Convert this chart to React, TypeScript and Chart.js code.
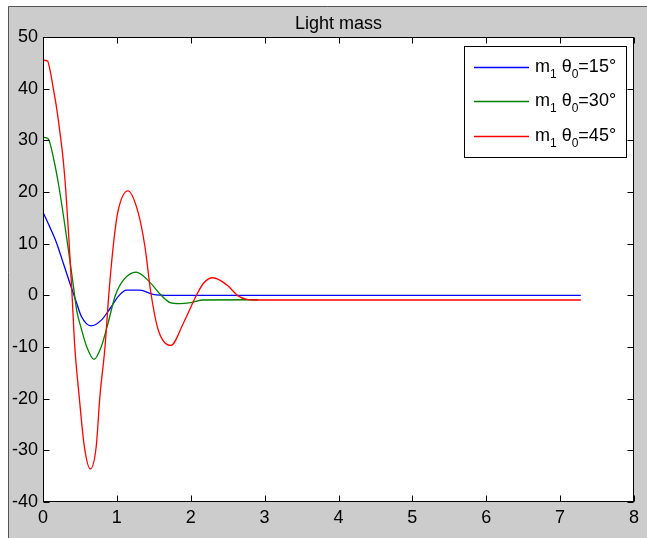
import React, { useEffect, useRef } from "react";
import { Chart, registerables } from "chart.js";

Chart.register(...registerables);

// ---- data ----
const xTicks = [0, 1, 2, 3, 4, 5, 6, 7, 8];
const yTicks = [-40, -30, -20, -10, 0, 10, 20, 30, 40, 50];
const titleText = "Light mass";
const legendAngles = ["15", "30", "45"];

const blueT = [0, 0.09, 0.185, 0.275, 0.365, 0.455, 0.52, 0.65, 0.79, 0.91, 1.02, 1.13, 1.31, 1.49, 1.72, 7.28];
const blueV = [16.1, 13.3, 10.1, 6.2, 2.3, -1.5, -4.1, -5.9, -4.8, -2.5, -0.2, 1.0, 1.0, 0.2, 0.0, 0.0];

const greenT = [0, 0.07, 0.15, 0.21, 0.275, 0.34, 0.4, 0.46, 0.51, 0.59, 0.69, 0.79, 0.88, 0.98, 1.09, 1.26, 1.43, 1.58, 1.72, 1.85, 2.0, 2.17, 2.91];
const greenV = [30.6, 30.3, 26.0, 21.5, 15.6, 9.2, 3.0, -3.2, -6.0, -9.9, -12.4, -9.9, -5.4, 0.0, 3.0, 4.5, 2.8, 0.3, -1.4, -1.6, -1.4, -0.9, -0.85];

const redT = [0, 0.06, 0.095, 0.14, 0.185, 0.23, 0.275, 0.31, 0.35, 0.39, 0.43, 0.49, 0.56, 0.64, 0.72, 0.77, 0.84, 0.89, 0.95, 1.01, 1.15, 1.29, 1.38, 1.46, 1.56, 1.73, 1.9, 2.08, 2.17, 2.3, 2.49, 2.64, 2.76, 2.85, 7.28];
const redV = [45.5, 45.4, 43.6, 40.0, 36.2, 31.5, 26.0, 20.0, 11.0, 1.0, -9.9, -19.6, -29.3, -33.6, -29.3, -19.6, -9.9, 0.0, 9.4, 15.9, 20.2, 15.9, 9.4, 0.5, -6.7, -9.7, -5.4, 0.1, 2.3, 3.4, 2.0, -0.1, -0.8, -0.9, -0.9];

const W = 647;
const H = 538;
const FONT = '"Liberation Sans", Arial, sans-serif';
const COLORS = ["#0000ff", "#008000", "#ff0000"];

function pts(t: number[], v: number[]) {
  return t.map((x, i) => ({ x, y: v[i] }));
}

export default function App() {
  const ref = useRef<HTMLCanvasElement>(null);

  useEffect(() => {
    document.body.style.margin = "0";
    const canvas = ref.current!;

    const bg = {
      id: "bg",
      beforeDraw(chart: any) {
        const { ctx, chartArea: a } = chart;
        ctx.save();
        ctx.fillStyle = "#ffffff";
        ctx.fillRect(0, 0, W, H);
        ctx.fillStyle = "#cccccc";
        ctx.fillRect(8, 6, W - 8, H - 6);
        ctx.strokeStyle = "#555555";
        ctx.lineWidth = 1;
        ctx.beginPath();
        ctx.moveTo(8.5, H);
        ctx.lineTo(8.5, 6.5);
        ctx.lineTo(W, 6.5);
        ctx.stroke();
        ctx.fillStyle = "#ffffff";
        ctx.fillRect(a.left, a.top, a.right - a.left, a.bottom - a.top);
        ctx.restore();
      },
    };

    const frame = {
      id: "frame",
      afterDraw(chart: any) {
        const { ctx, chartArea: a, scales } = chart;
        const L = Math.round(a.left) + 0.5;
        const R = Math.round(a.right) - 0.5;
        const T = Math.round(a.top) + 0.5;
        const B = Math.round(a.bottom) - 0.5;
        const tl = 6;
        ctx.save();
        ctx.strokeStyle = "#000000";
        ctx.lineWidth = 1;
        ctx.beginPath();
        xTicks.forEach((v) => {
          const px = Math.round(scales.x.getPixelForValue(v)) + 0.5;
          ctx.moveTo(px, B);
          ctx.lineTo(px, B - tl);
          ctx.moveTo(px, T);
          ctx.lineTo(px, T + tl);
        });
        yTicks.forEach((v) => {
          const py = Math.round(scales.y.getPixelForValue(v)) + 0.5;
          ctx.moveTo(L, py);
          ctx.lineTo(L + tl, py);
          ctx.moveTo(R, py);
          ctx.lineTo(R - tl, py);
        });
        ctx.stroke();
        ctx.strokeRect(L, T, R - L, B - T);

        // title
        ctx.fillStyle = "#000000";
        ctx.font = `18px ${FONT}`;
        ctx.textAlign = "center";
        ctx.textBaseline = "alphabetic";
        ctx.fillText(titleText, (a.left + a.right) / 2, 29);

        // legend
        const lx = 464, ly = 46, lw = 162, lh = 111;
        ctx.fillStyle = "#ffffff";
        ctx.fillRect(lx, ly, lw, lh);
        ctx.strokeStyle = "#000000";
        ctx.lineWidth = 1;
        ctx.strokeRect(lx + 0.5, ly + 0.5, lw, lh);
        const rows = [67, 101, 136];
        ctx.textAlign = "left";
        legendAngles.forEach((ang, i) => {
          const y = rows[i];
          ctx.strokeStyle = COLORS[i];
          ctx.lineWidth = 1.3;
          ctx.beginPath();
          ctx.moveTo(474, y + 0.5);
          ctx.lineTo(529, y + 0.5);
          ctx.stroke();
          ctx.fillStyle = "#000000";
          const base = y + 5;
          let x = 535;
          const big = `18px ${FONT}`;
          const small = `12px ${FONT}`;
          const parts: [string, boolean][] = [["m", false], ["1", true], [" \u03b8", false], ["0", true], [`=${ang}\u00b0`, false]];
          parts.forEach(([s, sub]) => {
            ctx.font = sub ? small : big;
            ctx.fillText(s, x, sub ? base + 6 : base);
            x += ctx.measureText(s).width;
          });
        });
        ctx.restore();
      },
    };

    const common = { borderWidth: 1.3, pointRadius: 0, cubicInterpolationMode: "monotone", fill: false };
    const chart = new Chart(canvas, {
      type: "line",
      data: {
        datasets: [
          { ...common, label: "m1 θ0=15°", data: pts(blueT, blueV), borderColor: COLORS[0], order: 3 },
          { ...common, label: "m1 θ0=30°", data: pts(greenT, greenV), borderColor: COLORS[1], order: 2 },
          { ...common, label: "m1 θ0=45°", data: pts(redT, redV), borderColor: COLORS[2], order: 1 },
        ] as any,
      },
      options: {
        responsive: false,
        animation: false,
        devicePixelRatio: 1,
        events: [],
        layout: { padding: { left: 0, top: 37, right: 13, bottom: 0 } },
        plugins: {
          legend: { display: false },
          title: { display: false },
          tooltip: { enabled: false },
        },
        scales: {
          x: {
            type: "linear",
            min: 0,
            max: 8,
            afterFit: (s: any) => { s.height = 36; },
            afterBuildTicks: (s: any) => { s.ticks = xTicks.map((v) => ({ value: v })); },
            grid: { display: false, drawTicks: false },
            border: { display: false },
            ticks: { padding: 5, color: "#000000", font: { family: FONT, size: 18 }, maxRotation: 0, autoSkip: false },
          },
          y: {
            type: "linear",
            min: -40,
            max: 50,
            afterFit: (s: any) => { s.width = 43; },
            afterBuildTicks: (s: any) => { s.ticks = yTicks.map((v) => ({ value: v })); },
            grid: { display: false, drawTicks: false },
            border: { display: false },
            ticks: { padding: 5, color: "#000000", font: { family: FONT, size: 18 }, autoSkip: false },
          },
        },
      } as any,
      plugins: [bg, frame],
    });

    return () => chart.destroy();
  }, []);

  return <canvas ref={ref} width={W} height={H} style={{ display: "block", width: W, height: H }} />;
}
